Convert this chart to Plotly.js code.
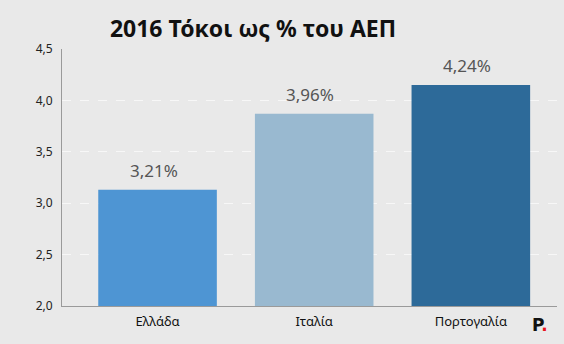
<!DOCTYPE html>
<html>
<head>
<meta charset="utf-8">
<script src="https://cdn.plot.ly/plotly-3.0.1.min.js"></script>
<style>html,body{margin:0;padding:0;background:#e9e9e9;}#chart{width:564px;height:344px;}</style>
</head>
<body>
<div id="chart"></div>
<script>
const categories = ["Ελλάδα", "Ιταλία", "Πορτογαλία"];
const barValues = [3.13, 3.87, 4.15];
const valueLabels = ["3,21%", "3,96%", "4,24%"];
const barColors = ["#4e95d3", "#99b9d0", "#2d6a99"];
const tickVals = [2.0, 2.5, 3.0, 3.5, 4.0, 4.5];
const tickText = ["2,0", "2,5", "3,0", "3,5", "4,0", "4,5"];

const FONT = "Noto Sans, Open Sans, DejaVu Sans, sans-serif";

const trace = {
  type: "bar",
  x: categories,
  y: barValues,
  marker: {color: barColors},
  width: 0.757,
  hoverinfo: "none"
};

const annotations = categories.map((c, i) => ({
  x: c, y: barValues[i], xref: "x", yref: "y",
  text: valueLabels[i], showarrow: false,
  yanchor: "bottom", xanchor: "center", yshift: 6, xshift: -4,
  font: {family: FONT, size: 17, color: "#555555"}
}));
annotations.push({
  xref: "paper", yref: "paper", x: 0.965, y: -0.075,
  xanchor: "center", yanchor: "middle", showarrow: false,
  text: "<b>P</b><b style='color:#e8141c'>.</b>",
  font: {family: "DejaVu Sans, sans-serif", size: 17, color: "#111111"}
});

const layout = {
  width: 564, height: 344,
  paper_bgcolor: "#e9e9e9", plot_bgcolor: "#e9e9e9",
  margin: {l: 62, r: 7, t: 49, b: 38},
  title: {
    text: "<b>2016 Τόκοι ως % του ΑΕΠ</b>",
    x: 253 / 564, xanchor: "center", xref: "container",
    y: 1 - 29 / 344, yanchor: "middle", yref: "container",
    font: {family: FONT, size: 23, color: "#111111"}
  },
  separators: ",.",
  showlegend: false,
  xaxis: {
    range: [-0.61, 2.55],
    showgrid: false, zeroline: false,
    showline: true, linecolor: "#9a9a9a", linewidth: 1,
    ticks: "", ticklabelstandoff: 3,
    tickfont: {family: FONT, size: 13, color: "#111111"},
    fixedrange: true
  },
  yaxis: {
    range: [2.0, 4.5],
    tickvals: tickVals, ticktext: tickText,
    showgrid: true, gridcolor: "#f7f7f7", griddash: "dash", gridwidth: 1,
    zeroline: false,
    showline: true, linecolor: "#9a9a9a", linewidth: 1,
    ticks: "", ticklabelstandoff: 6,
    tickfont: {family: FONT, size: 12, color: "#222222"},
    fixedrange: true
  },
  annotations: annotations
};

Plotly.newPlot("chart", [trace], layout, {displayModeBar: false, staticPlot: true});
</script>
</body>
</html>
